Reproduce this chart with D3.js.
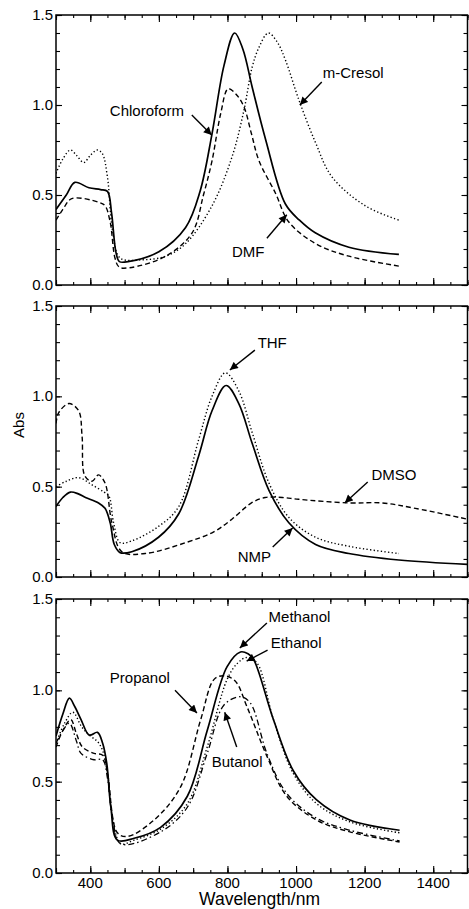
<!DOCTYPE html>
<html lang="en">
<head>
<meta charset="UTF-8">
<title>Abs spectra</title>
<script src="https://d3js.org/d3.v7.min.js"></script>
<style>
    body { margin: 0; background: #fff; }
    text { font-family: "Liberation Sans", Arial, sans-serif; fill: #000; }
    .frame { fill: none; stroke: #000; stroke-width: 1.5; }
    .curve { fill: none; stroke: #000; }
    .axis path { display: none; }
    .axis line { stroke: #000; stroke-width: 1.1; }
</style>
</head>
<body>
<svg width="469" height="909" id="svg1"></svg>
<script>
    // [wavelength nm, absorbance]
    var chloroform = [[300,.42],[330,.50],[355,.57],[396,.54],[430,.53],[450,.52],[462,.40],[475,.18],[485,.13],[510,.13],[600,.185],[678,.32],[720,.52],[755,.84],[790,1.22],[821,1.40],[845,1.31],[872,1.10],[911,.81],[969,.45],[1010,.36],[1056,.29],[1154,.21],[1300,.17]];
    var dmf = [[300,.36],[320,.42],[346,.48],[424,.46],[443,.44],[458,.35],[472,.15],[484,.10],[514,.096],[620,.16],[697,.29],[730,.50],[755,.69],[780,.95],[802,1.09],[825,1.06],[848,.99],[870,.84],[892,.69],[940,.51],[979,.35],[1057,.23],[1154,.16],[1300,.105]];
    var mCresol = [[300,.62],[320,.70],[342,.75],[360,.72],[381,.68],[400,.72],[420,.75],[435,.73],[450,.60],[465,.30],[487,.15],[550,.14],[620,.16],[678,.23],[755,.44],[813,.71],[848,.97],[872,1.21],[892,1.32],[919,1.40],[945,1.35],[969,1.25],[1008,1.03],[1057,.79],[1105,.60],[1202,.44],[1300,.36]];

    var nmp = [[300,.39],[320,.44],[342,.47],[365,.46],[386,.44],[424,.41],[443,.38],[458,.30],[470,.18],[487,.135],[521,.14],[599,.22],[658,.35],[716,.67],[755,.92],[796,1.06],[833,.96],[872,.74],[921,.48],[979,.30],[1057,.18],[1154,.13],[1300,.094],[1500,.07]];
    var thf = [[300,.50],[330,.53],[366,.55],[405,.51],[440,.47],[454,.45],[468,.30],[487,.19],[521,.20],[599,.28],[658,.39],[716,.76],[755,1.0],[794,1.13],[833,1.03],[872,.80],[921,.52],[979,.33],[1057,.22],[1154,.17],[1300,.13]];
    var dmso = [[300,.85],[308,.91],[338,.96],[366,.92],[376,.78],[384,.56],[405,.53],[424,.565],[443,.52],[463,.30],[492,.14],[560,.13],[678,.19],[760,.25],[813,.32],[870,.41],[910,.44],[960,.44],[1008,.43],[1154,.41],[1251,.41],[1348,.38],[1500,.32]];

    var methanol = [[300,.75],[320,.87],[339,.957],[355,.91],[373,.84],[397,.755],[421,.77],[436,.71],[448,.60],[460,.36],[479,.18],[528,.19],[605,.25],[683,.42],[741,.78],[799,1.13],[838,1.21],[860,1.20],[876,1.17],[934,.84],[992,.56],[1060,.40],[1157,.29],[1302,.234]];
    var ethanol = [[300,.71],[325,.82],[349,.88],[375,.80],[400,.75],[421,.72],[436,.67],[450,.55],[465,.30],[489,.16],[528,.18],[605,.24],[683,.38],[741,.69],[799,1.06],[830,1.15],[857,1.18],[886,1.15],[934,.84],[992,.545],[1060,.38],[1157,.28],[1302,.22]];
    var propanol = [[300,.69],[320,.78],[343,.84],[360,.76],[377,.69],[411,.655],[436,.645],[450,.55],[479,.22],[508,.20],[586,.29],[663,.47],[722,.84],[761,1.06],[790,1.08],[823,1.05],[857,.91],[915,.64],[973,.42],[1060,.29],[1157,.225],[1302,.17]];
    var butanol = [[300,.71],[320,.78],[339,.82],[360,.72],[373,.655],[411,.62],[436,.62],[450,.52],[465,.30],[489,.16],[605,.225],[683,.36],[741,.655],[790,.92],[838,.965],[867,.93],[915,.655],[973,.435],[1060,.30],[1157,.234],[1302,.176]];

    var xTickLabels = [400, 600, 800, 1000, 1200, 1400];
    var yTickLabels = [0, 0.5, 1.0, 1.5];

    // label, text anchor [w, A], arrow start [w, A], arrow tip [w, A]
    var notes1 = [["Chloroform", [457, .94], [696, .944], [754, .833]],
                  ["m-Cresol", [1078, 1.15], [1075, 1.128], [1011, 1.0]],
                  ["DMF", [813, .156], [915, .26], [973, .39]]];
    var notes2 = [["THF", [888, 1.267], [880, 1.256], [807, 1.146]],
                  ["DMSO", [1220, .537], [1209, .526], [1142, .41]],
                  ["NMP", [830, .083], [932, .166], [990, .271]]];
    var notes3 = [["Methanol", [920, 1.374], [915, 1.369], [836, 1.232]],
                  ["Ethanol", [926, 1.232], [917, 1.22], [856, 1.16]],
                  ["Propanol", [457, 1.04], [647, 1.0], [711, .876]],
                  ["Butanol", [754, .58], [827, .69], [792, .88]]];

    var svg = d3.select("#svg1");
    var left = 56, right = 467.5;

    svg.append("defs").append("marker")
        .attr("id", "head")
        .attr("viewBox", "0 0 10 10")
        .attr("refX", 10).attr("refY", 5)
        .attr("markerWidth", 9).attr("markerHeight", 8)
        .attr("markerUnits", "userSpaceOnUse")
        .attr("orient", "auto")
        .append("path")
        .attr("d", "M0,0 L10,5 L0,10 z")
        .attr("fill", "#000");

    var xScale = d3.scaleLinear().domain([300, 1500]).range([left, right]);

    var styles = {
        solid: { dash: null, width: 1.7 },
        dash: { dash: "5,3", width: 1.4 },
        dot: { dash: "1.3,2.3", width: 1.4 },
        dashdot: { dash: "6,3,1.5,3", width: 1.3 }
    };

    function panel(top, bottom, series, notes, showX) {
        var yScale = d3.scaleLinear().domain([0, 1.5]).range([bottom, top]);
        var g = svg.append("g");

        // clip the curves to the frame
        var clipId = "clip" + top;
        svg.select("defs").append("clipPath").attr("id", clipId)
            .append("rect").attr("x", left).attr("y", top)
            .attr("width", right - left).attr("height", bottom - top);

        var line = d3.line()
            .x(function (d) { return xScale(d[0]); })
            .y(function (d) { return yScale(d[1]); })
            .curve(d3.curveCatmullRom.alpha(0.5));

        var cg = g.append("g").attr("clip-path", "url(#" + clipId + ")");
        series.forEach(function (s) {
            var st = styles[s[1]];
            cg.append("path")
                .attr("class", "curve")
                .attr("d", line(s[0]))
                .attr("stroke-width", st.width)
                .attr("stroke-dasharray", st.dash);
        });

        // ticks on all four sides, pointing inward
        function xTicks(step) { return d3.range(300, 1501, step); }
        var xSets = [[xTicks(50), 3], [xTicks(100), 5], [xTicks(200).map(function (d) { return d + 100; }).filter(function (d) { return d <= 1500; }), 7]];
        xSets.forEach(function (s) {
            g.append("g").attr("class", "axis")
                .attr("transform", "translate(0," + bottom + ")")
                .call(d3.axisBottom(xScale).tickValues(s[0]).tickSize(-s[1]).tickFormat(""));
            g.append("g").attr("class", "axis")
                .attr("transform", "translate(0," + top + ")")
                .call(d3.axisTop(xScale).tickValues(s[0]).tickSize(-s[1]).tickFormat(""));
        });
        var ySets = [[d3.range(0, 1.51, 0.1), 4], [yTickLabels, 6]];
        ySets.forEach(function (s) {
            g.append("g").attr("class", "axis")
                .attr("transform", "translate(" + left + ",0)")
                .call(d3.axisLeft(yScale).tickValues(s[0]).tickSize(-s[1]).tickFormat(""));
            g.append("g").attr("class", "axis")
                .attr("transform", "translate(" + right + ",0)")
                .call(d3.axisRight(yScale).tickValues(s[0]).tickSize(-s[1]).tickFormat(""));
        });

        g.selectAll(".ylab")
            .data(yTickLabels)
            .enter().append("text")
            .attr("x", left - 3)
            .attr("y", function (d) { return yScale(d) + 5; })
            .attr("text-anchor", "end")
            .attr("font-size", "15px")
            .text(function (d) { return d3.format(".1f")(d); });

        if (showX) {
            g.selectAll(".xlab")
                .data(xTickLabels)
                .enter().append("text")
                .attr("x", function (d) { return xScale(d); })
                .attr("y", bottom + 14.5)
                .attr("text-anchor", "middle")
                .attr("font-size", "15px")
                .text(function (d) { return d; });
        }

        g.append("rect").attr("class", "frame")
            .attr("x", left).attr("y", top)
            .attr("width", right - left).attr("height", bottom - top);

        notes.forEach(function (n) {
            g.append("text")
                .attr("x", xScale(n[1][0]))
                .attr("y", yScale(n[1][1]))
                .attr("font-size", "15px")
                .text(n[0]);
            g.append("line")
                .attr("x1", xScale(n[2][0])).attr("y1", yScale(n[2][1]))
                .attr("x2", xScale(n[3][0])).attr("y2", yScale(n[3][1]))
                .attr("stroke", "#000").attr("stroke-width", 1.4)
                .attr("marker-end", "url(#head)");
        });
        return yScale;
    }

    panel(15, 285, [[chloroform, "solid"], [dmf, "dash"], [mCresol, "dot"]], notes1, false);
    panel(306, 577, [[nmp, "solid"], [thf, "dot"], [dmso, "dash"]], notes2, false);
    panel(599, 873, [[methanol, "solid"], [ethanol, "dot"], [propanol, "dash"], [butanol, "dashdot"]], notes3, true);

    svg.append("text")
        .attr("transform", "translate(24,425) rotate(-90)")
        .attr("text-anchor", "middle")
        .attr("font-size", "15px")
        .text("Abs");

    svg.append("text")
        .attr("x", 259.5)
        .attr("y", 905)
        .attr("text-anchor", "middle")
        .attr("font-size", "17.5px")
        .text("Wavelength/nm");
</script>
</body>
</html>
